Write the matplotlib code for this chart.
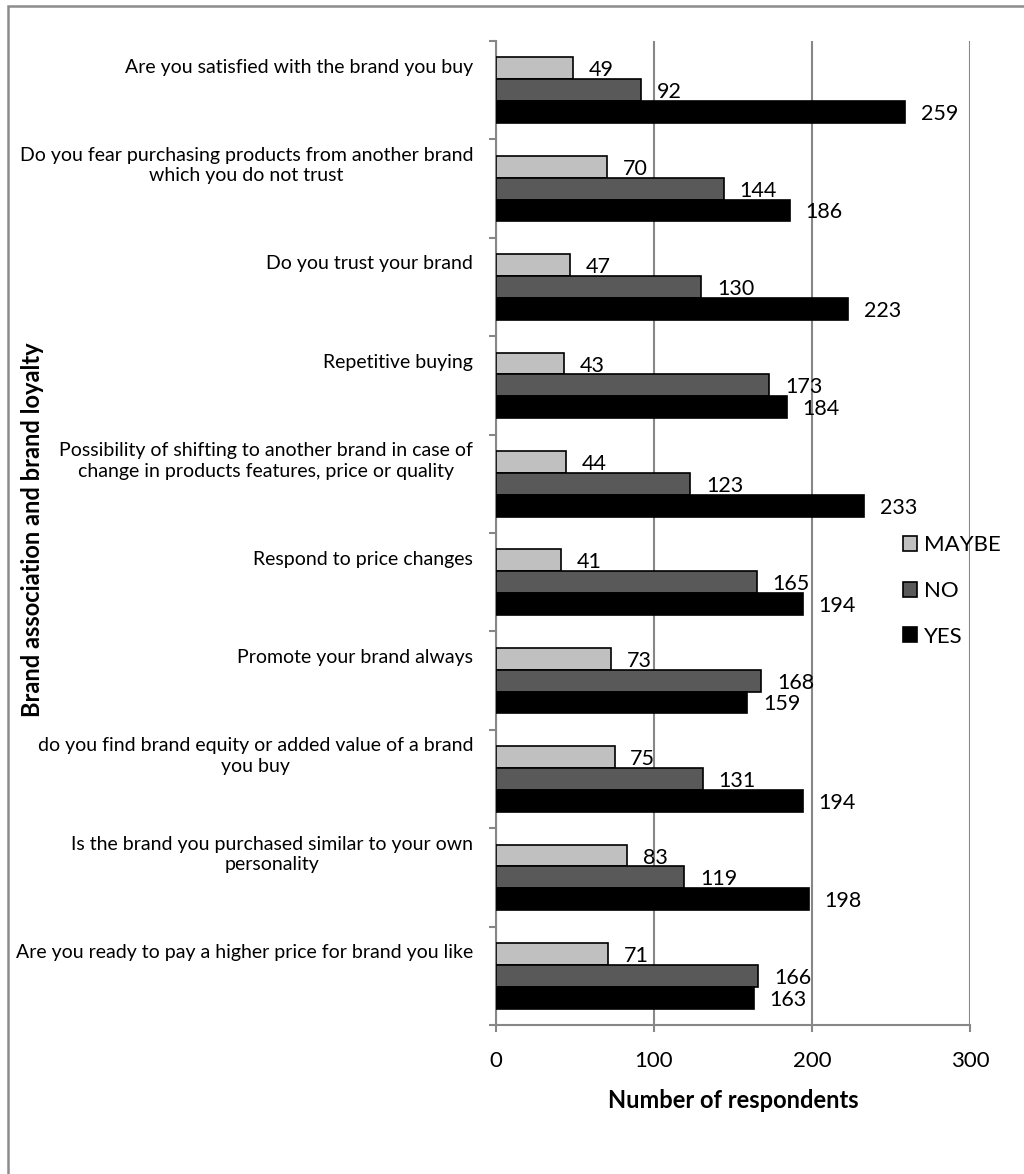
import matplotlib.pyplot as plt
import numpy as np
from matplotlib.patches import Patch, Rectangle
from matplotlib.transforms import ScaledTranslation

plt.rcParams["font.family"] = ["Lato", "DejaVu Sans"]

# Survey answers, top question first
questions = [
    "Are you satisfied with the brand you buy",
    "Do you fear purchasing products from another brand\nwhich you do not trust",
    "Do you trust your brand",
    "Repetitive buying",
    "Possibility of shifting to another brand in case of\nchange in products features, price or quality",
    "Respond to price changes",
    "Promote your brand always",
    "do you find brand equity or added value of a brand\nyou buy",
    "Is the brand you purchased similar to your own\npersonality",
    "Are you ready to pay a higher price for brand you like",
]
maybe = [49, 70, 47, 43, 44, 41, 73, 75, 83, 71]
no = [92, 144, 130, 173, 123, 165, 168, 131, 119, 166]
yes = [259, 186, 223, 184, 233, 194, 159, 194, 198, 163]

series_names = ["MAYBE", "NO", "YES"]
series_values = [maybe, no, yes]
fills = ["#c0c0c0", "#595959", "#000000"]

x_ticks = [0, 100, 200, 300]

W, H = 1024, 1174
fig = plt.figure(figsize=(W / 100, H / 100), dpi=100)

# plot area in pixels: left, right, top, bottom
pl, pr, pt, pb = 496, 970, 41, 1025
ax = fig.add_axes([pl / W, 1 - pb / H, (pr - pl) / W, (pb - pt) / H])

n = len(questions)
band_centers = np.arange(n)[::-1] + 0.5  # first question at the top
bar_h = 1 / 4.5

val_tr = ax.transData + ScaledTranslation(0, -2 / 100, fig.dpi_scale_trans)
for k, (name, vals, col) in enumerate(zip(series_names, series_values, fills)):
    y = band_centers + (1 - k) * bar_h
    ax.barh(y, vals, height=bar_h, color=col, edgecolor="black",
            linewidth=1.2, label=name, zorder=3)
    for yy, v in zip(y, vals):
        ax.text(v + 10, yy, str(v), va="center", ha="left",
                fontsize=15.5, color="black", zorder=4, transform=val_tr)

# question labels sit a little above each band centre
lab_tr = ax.get_yaxis_transform() + ScaledTranslation(-23 / 100, 23 / 100, fig.dpi_scale_trans)
for yc, q in zip(band_centers, questions):
    ax.text(0, yc, q, transform=lab_tr, ha="right", va="center",
            multialignment="center", fontsize=14, linespacing=1.25)

ax.set_xlim(0, 300)
ax.set_ylim(0, n)
ax.set_xticks(x_ticks)
ax.set_xticklabels([str(t) for t in x_ticks], fontsize=16)
ax.set_yticks(np.arange(n + 1))
ax.set_yticklabels([])

grey = "#878787"
ax.xaxis.grid(True, color=grey, linewidth=1.5, zorder=0)
ax.set_axisbelow(True)
for s in ["top", "right"]:
    ax.spines[s].set_visible(False)
for s in ["left", "bottom"]:
    ax.spines[s].set_color(grey)
    ax.spines[s].set_linewidth(1.5)
ax.tick_params(axis="both", direction="out", length=5, width=1.5, color=grey)
ax.tick_params(axis="x", pad=14)

fig.text((pl + pr) / 2 / W, 1 - 1100 / H, "Number of respondents",
         ha="center", va="center", fontsize=17, fontweight="bold")
fig.text(33 / W, 1 - 530 / H, "Brand association and brand loyalty",
         rotation=90, ha="center", va="center", fontsize=17, fontweight="bold")

handles = [Patch(facecolor=c, edgecolor="black", linewidth=1.2) for c in fills]
fig.legend(handles, series_names, loc="center left",
           bbox_to_anchor=(903 / W, 1 - 591 / H), frameon=False,
           fontsize=16, handlelength=0.65, handleheight=0.65,
           handletextpad=0.3, labelspacing=1.15, borderpad=0, borderaxespad=0)

# outer frame of the chart
fig.patches.append(Rectangle((7.5 / W, -0.05), 1.1, 1 - 5.5 / H + 0.05,
                             transform=fig.transFigure, fill=False,
                             edgecolor="#8c8c8c", linewidth=1.8))

plt.savefig("out.png", dpi=100)
